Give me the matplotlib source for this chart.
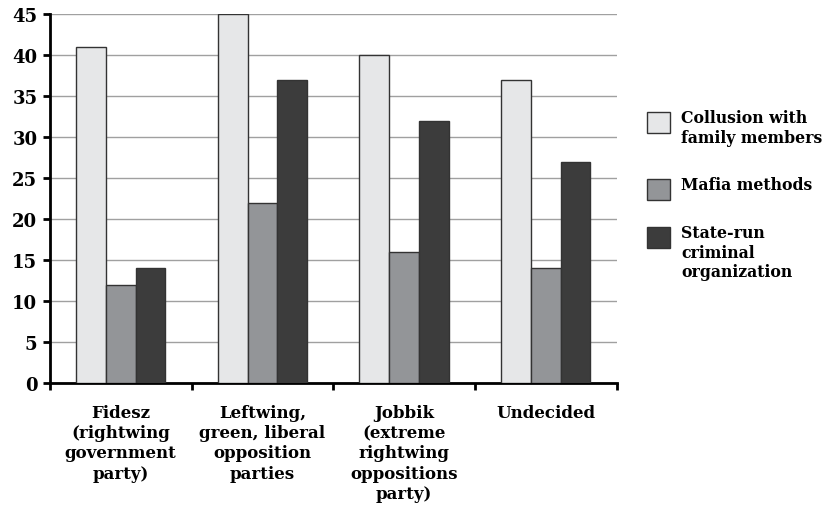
import matplotlib.pyplot as plt
from matplotlib.patches import Rectangle
import numpy as np

# data
categories = ["Fidesz\n(rightwing\ngovernment\nparty)",
              "Leftwing,\ngreen, liberal\nopposition\nparties",
              "Jobbik\n(extreme\nrightwing\noppositions\nparty)",
              "Undecided"]
series_names = ["Collusion with\nfamily members", "Mafia methods",
                "State-run\ncriminal\norganization"]
collusion = [41, 45, 40, 37]
mafia = [12, 22, 16, 14]
state_run = [14, 37, 32, 27]
yticks = [0, 5, 10, 15, 20, 25, 30, 35, 40, 45]

colors = ["#e6e7e8", "#939598", "#3c3c3c"]

plt.rcParams['font.family'] = ['DejaVu Serif']
plt.rcParams['font.weight'] = 'bold'

fig = plt.figure(figsize=(8.31, 5.06), dpi=100)
ax = fig.add_axes([0.060, 0.241, 0.682, 0.729])

x = np.arange(len(categories))
w = 0.21
for i, vals in enumerate([collusion, mafia, state_run]):
    ax.bar(x + (i - 1) * w, vals, width=w, color=colors[i],
           edgecolor="#333333", linewidth=1.0, label=series_names[i], zorder=3)

ax.set_xlim(-0.5, len(categories) - 0.5)
ax.set_ylim(0, 45)
ax.set_yticks(yticks)
ax.yaxis.grid(True, color="#a0a0a0", linewidth=1.0, zorder=0)

ax.set_xticks(x)
ax.set_xticklabels(categories, fontsize=12, fontweight='bold', linespacing=1.25)
ax.tick_params(axis='x', which='major', length=0, pad=15)
ax.set_xticks(np.arange(len(categories) + 1) - 0.5, minor=True)
ax.tick_params(axis='x', which='minor', length=5, width=2, direction='out')
ax.tick_params(axis='y', length=5, width=2, direction='out', labelsize=13, pad=4)
for lab in ax.get_yticklabels():
    lab.set_fontweight('bold')

for s in ['top', 'right']:
    ax.spines[s].set_visible(False)
ax.spines['left'].set_linewidth(2)
ax.spines['bottom'].set_linewidth(2)

# legend drawn by hand: swatch lines up with the first text line
leg_top = [113, 180, 228]   # pixel tops of the swatches
W, H = 831.0, 506.0
for name, col, top in zip(series_names, colors, leg_top):
    fig.patches.append(Rectangle((647 / W, 1 - (top + 21) / H), 23 / W, 21 / H,
                                 transform=fig.transFigure, facecolor=col,
                                 edgecolor="#333333", linewidth=1.0))
    fig.text(681 / W, 1 - (top - 3) / H, name, fontsize=11.3, fontweight='bold',
             va='top', ha='left', linespacing=1.2)

fig.savefig("out.png", dpi=100)
